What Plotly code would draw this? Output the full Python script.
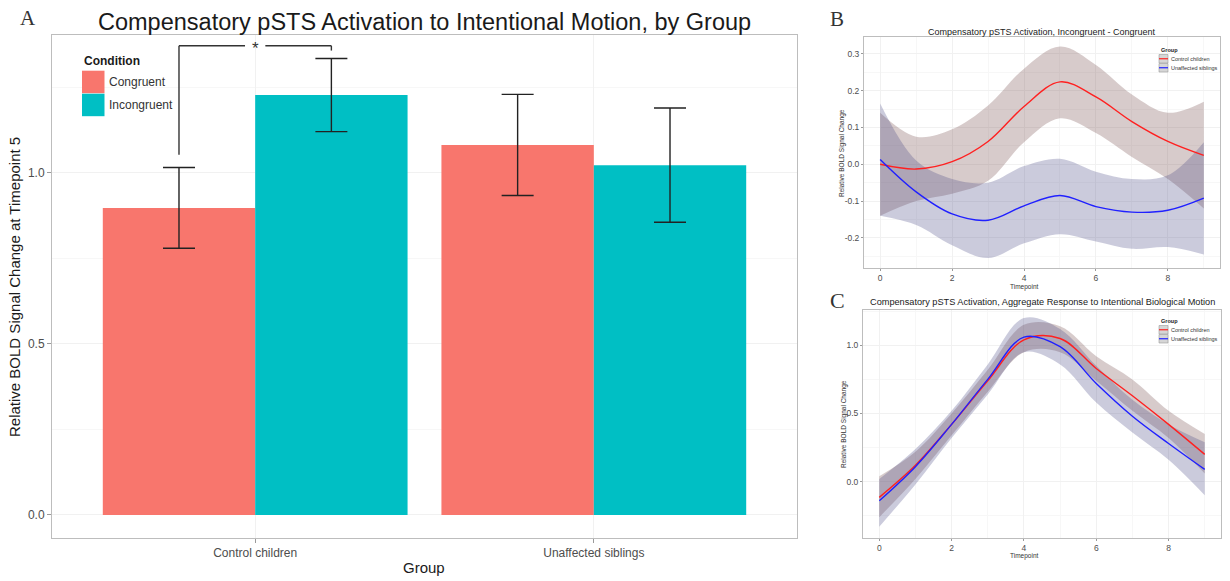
import plotly.graph_objects as go

# ---------------- data ----------------
groups = ["Control children", "Unaffected siblings"]
congruent = [0.898, 1.082]
congruent_err = [0.118, 0.148]
incongruent = [1.228, 1.023]
incongruent_err = [0.107, 0.167]
bracket_top = 1.372
bracket_left_end = 1.053
bracket_right_end = 1.358

timepoints = [0, 1, 2, 3, 4, 5, 6, 7, 8, 9]
# Panel B: Incongruent - Congruent
b_control = [0.0, -0.013, 0.007, 0.062, 0.157, 0.224, 0.183, 0.116, 0.062, 0.024]
b_control_hi = [0.14, 0.075, 0.095, 0.16, 0.26, 0.32, 0.27, 0.19, 0.14, 0.17]
b_control_lo = [-0.14, -0.10, -0.08, -0.045, 0.06, 0.125, 0.085, 0.02, -0.04, -0.12]
b_sibs = [0.013, -0.075, -0.135, -0.152, -0.113, -0.085, -0.115, -0.130, -0.125, -0.092]
b_sibs_hi = [0.165, 0.01, -0.04, -0.05, -0.005, 0.015, -0.02, -0.04, -0.03, 0.06]
b_sibs_lo = [-0.14, -0.165, -0.22, -0.255, -0.215, -0.19, -0.21, -0.23, -0.225, -0.245]
# Panel C: aggregate response
c_control = [-0.115, 0.12, 0.42, 0.74, 1.04, 1.05, 0.83, 0.63, 0.42, 0.20]
c_control_hi = [0.04, 0.22, 0.50, 0.82, 1.15, 1.14, 0.92, 0.75, 0.52, 0.35]
c_control_lo = [-0.26, 0.02, 0.34, 0.66, 0.95, 0.95, 0.74, 0.52, 0.32, 0.06]
c_sibs = [-0.14, 0.11, 0.42, 0.75, 1.06, 0.99, 0.72, 0.48, 0.28, 0.09]
c_sibs_hi = [0.02, 0.24, 0.52, 0.86, 1.20, 1.12, 0.85, 0.60, 0.42, 0.29]
c_sibs_lo = [-0.33, -0.02, 0.32, 0.64, 0.95, 0.86, 0.58, 0.36, 0.16, -0.10]

W, H = 1230, 581
def px(x):
    return x / W
def py(y):
    return 1 - y / H

COL_CONG = "#F8766D"
COL_INC = "#00BFC4"
FONT = "Liberation Sans, Arial, sans-serif"
SERIF = "Liberation Serif, DejaVu Serif, serif"
TXT = "#4d4d4d"

fig = go.Figure()

# ---------------- Panel A ----------------
fig.add_trace(go.Bar(x=groups, y=congruent, name="Congruent", marker_color=COL_CONG,
                     marker_line_width=0,
                     error_y=dict(type="data", array=congruent_err, color="#222222",
                                  thickness=1.4, width=16),
                     xaxis="x", yaxis="y", showlegend=False))
fig.add_trace(go.Bar(x=groups, y=incongruent, name="Incongruent", marker_color=COL_INC,
                     marker_line_width=0,
                     error_y=dict(type="data", array=incongruent_err, color="#222222",
                                  thickness=1.4, width=16),
                     xaxis="x", yaxis="y", showlegend=False))

# ---------------- helper for smooth panels ----------------
BAND_RED = "rgba(110,70,70,0.28)"
BAND_BLUE = "rgba(70,70,130,0.28)"

def add_panel(xa, ya, ctl, ctl_hi, ctl_lo, sib, sib_hi, sib_lo):
    for lo, hi, col in ((ctl_lo, ctl_hi, BAND_RED), (sib_lo, sib_hi, BAND_BLUE)):
        fig.add_trace(go.Scatter(x=timepoints, y=lo, mode="lines",
                                 line=dict(width=0, shape="spline"),
                                 xaxis=xa, yaxis=ya, showlegend=False, hoverinfo="skip"))
        fig.add_trace(go.Scatter(x=timepoints, y=hi, mode="lines", fill="tonexty",
                                 fillcolor=col, line=dict(width=0, shape="spline"),
                                 xaxis=xa, yaxis=ya, showlegend=False, hoverinfo="skip"))
    fig.add_trace(go.Scatter(x=timepoints, y=ctl, mode="lines", name="Control children",
                             line=dict(color="#ff2020", width=1.4, shape="spline"),
                             xaxis=xa, yaxis=ya, showlegend=False))
    fig.add_trace(go.Scatter(x=timepoints, y=sib, mode="lines", name="Unaffected siblings",
                             line=dict(color="#2020ff", width=1.4, shape="spline"),
                             xaxis=xa, yaxis=ya, showlegend=False))

add_panel("x2", "y2", b_control, b_control_hi, b_control_lo, b_sibs, b_sibs_hi, b_sibs_lo)
add_panel("x3", "y3", c_control, c_control_hi, c_control_lo, c_sibs, c_sibs_hi, c_sibs_lo)

# ---------------- axes ----------------
common = dict(showline=True, linecolor="#bdbdbd", linewidth=1, mirror=True,
              ticks="outside", tickcolor="#9a9a9a", zeroline=False,
              gridcolor="#f1f1f1", gridwidth=1)

fig.update_layout(
    width=W, height=H, autosize=False,
    margin=dict(l=0, r=0, t=0, b=0),
    paper_bgcolor="white", plot_bgcolor="white",
    barmode="group", bargap=0.1, bargroupgap=0,
    font=dict(family=FONT, color=TXT),
    xaxis=dict(domain=[px(52), px(797)], anchor="y", range=[-0.6, 1.6], ticklen=4,
               tickfont=dict(size=12, color=TXT), **common),
    yaxis=dict(domain=[py(538), py(35)], anchor="x", range=[-0.0673, 1.4035], ticklen=4,
               tickvals=[0, 0.5, 1.0], ticktext=["0.0", "0.5", "1.0"],
               tickfont=dict(size=12, color=TXT),
               minor=dict(tickvals=[0.25, 0.75, 1.25], showgrid=True, gridcolor="#f7f7f7",
                          ticks=""),
               **common),
    xaxis2=dict(domain=[px(864), px(1220)], anchor="y2", range=[-0.45, 9.45], ticklen=2,
                tickvals=[0, 2, 4, 6, 8], tickfont=dict(size=8.5, color=TXT),
                minor=dict(tickvals=[1, 3, 5, 7, 9], showgrid=True, gridcolor="#f7f7f7", ticks=""),
                **common),
    yaxis2=dict(domain=[py(268), py(37)], anchor="x2", range=[-0.282, 0.346], ticklen=2,
                tickvals=[-0.2, -0.1, 0.0, 0.1, 0.2, 0.3],
                ticktext=["-0.2", "-0.1", "0.0", "0.1", "0.2", "0.3"],
                tickfont=dict(size=8.5, color=TXT),
                minor=dict(tickvals=[-0.25, -0.15, -0.05, 0.05, 0.15, 0.25], showgrid=True,
                           gridcolor="#f7f7f7", ticks=""),
                **common),
    xaxis3=dict(domain=[px(863), px(1221)], anchor="y3", range=[-0.45, 9.45], ticklen=2,
                tickvals=[0, 2, 4, 6, 8], tickfont=dict(size=8.5, color=TXT),
                minor=dict(tickvals=[1, 3, 5, 7, 9], showgrid=True, gridcolor="#f7f7f7", ticks=""),
                **common),
    yaxis3=dict(domain=[py(538), py(310)], anchor="x3", range=[-0.413, 1.259], ticklen=2,
                tickvals=[0.0, 0.5, 1.0], ticktext=["0.0", "0.5", "1.0"],
                tickfont=dict(size=8.5, color=TXT),
                minor=dict(tickvals=[-0.25, 0.25, 0.75, 1.25], showgrid=True,
                           gridcolor="#f7f7f7", ticks=""),
                **common),
)

shapes = []
annotations = []

# significance bracket (panel A)
left_x, right_x, gap = -0.225, 0.225, 0.03
line_st = dict(color="#333333", width=1.4)
shapes += [
    dict(type="line", xref="x", yref="y", x0=left_x, x1=left_x, y0=bracket_left_end, y1=bracket_top, line=line_st),
    dict(type="line", xref="x", yref="y", x0=left_x, x1=-gap, y0=bracket_top, y1=bracket_top, line=line_st),
    dict(type="line", xref="x", yref="y", x0=gap, x1=right_x, y0=bracket_top, y1=bracket_top, line=line_st),
    dict(type="line", xref="x", yref="y", x0=right_x, x1=right_x, y0=bracket_top, y1=bracket_right_end, line=line_st),
]
annotations.append(dict(x=0, y=bracket_top, xref="x", yref="y", text="*", showarrow=False,
                        font=dict(size=17, color="#333333", family=FONT), yshift=-3))

# legend A
annotations.append(dict(x=px(82), y=py(61), xref="paper", yref="paper", text="<b>Condition</b>",
                        showarrow=False, xanchor="left", yanchor="middle",
                        font=dict(size=12, color="#1a1a1a")))
for i, (name, col) in enumerate((("Congruent", COL_CONG), ("Incongruent", COL_INC))):
    y0 = 70.7 + i * 23
    shapes.append(dict(type="rect", xref="paper", yref="paper", x0=px(82), x1=px(104.5),
                       y0=py(y0 + 22.5), y1=py(y0), fillcolor=col, line=dict(width=0)))
    annotations.append(dict(x=px(107), y=py(y0 + 11.5), xref="paper", yref="paper", text=name,
                            showarrow=False, xanchor="left", yanchor="middle",
                            font=dict(size=12, color="#333333")))

# small legends for B and C
def small_legend(x_box, y_title):
    annotations.append(dict(x=px(x_box), y=py(y_title), xref="paper", yref="paper",
                            text="<b>Group</b>", showarrow=False, xanchor="left", yanchor="middle",
                            font=dict(size=5.5, color="#222222")))
    for i, (name, col) in enumerate((("Control children", "#ff2020"),
                                     ("Unaffected siblings", "#2020ff"))):
        top = y_title + 4.5 + i * 9
        shapes.append(dict(type="rect", xref="paper", yref="paper", x0=px(x_box), x1=px(x_box + 9),
                           y0=py(top + 8.5), y1=py(top), fillcolor="#d6d6d6",
                           line=dict(color="#9a9a9a", width=0.6)))
        shapes.append(dict(type="line", xref="paper", yref="paper", x0=px(x_box), x1=px(x_box + 9),
                           y0=py(top + 4.25), y1=py(top + 4.25), line=dict(color=col, width=1.2)))
        annotations.append(dict(x=px(x_box + 10), y=py(top + 4.25), xref="paper", yref="paper",
                                text=name, showarrow=False, xanchor="left", yanchor="middle",
                                font=dict(size=5.5, color="#333333")))

small_legend(1159, 50)
small_legend(1159, 321)

# titles and axis titles
def txt(x, y, s, size, color="#1a1a1a", family=FONT, angle=0, xanchor="center"):
    annotations.append(dict(x=px(x), y=py(y), xref="paper", yref="paper", text=s,
                            showarrow=False, xanchor=xanchor, yanchor="middle", textangle=angle,
                            font=dict(size=size, color=color, family=family)))

txt(424, 22, "Compensatory pSTS Activation to Intentional Motion, by Group", 23.5)
txt(424, 567, "Group", 15)
txt(15, 287, "Relative BOLD Signal Change at Timepoint 5", 15, angle=-90)
txt(28, 18, "A", 21, color="#333333", family=SERIF)

txt(1042, 32, "Compensatory pSTS Activation, Incongruent - Congruent", 9)
txt(1024, 286.5, "Timepoint", 6.5, color="#333333")
txt(842, 153, "Relative BOLD Signal Change", 6.5, color="#333333", angle=-90)
txt(837, 19, "B", 21, color="#333333", family=SERIF)

txt(1042, 302, "Compensatory pSTS Activation, Aggregate Response to Intentional Biological Motion", 9.2)
txt(1024, 556, "Timepoint", 6.5, color="#333333")
txt(844, 424, "Relative BOLD Signal Change", 6.5, color="#333333", angle=-90)
txt(837, 300, "C", 22, color="#333333", family=SERIF)

fig.update_layout(shapes=shapes, annotations=annotations)
fig.write_html("out.html")
